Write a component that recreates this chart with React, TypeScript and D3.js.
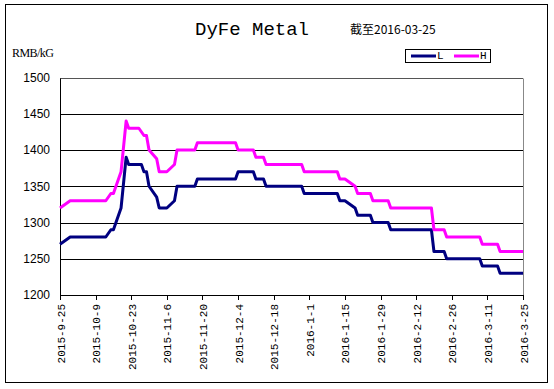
import { useEffect, useRef } from 'react';
import * as d3 from 'd3';

// L (low) price series: change points
const lDates = [
  '2015-09-25', '2015-09-29', '2015-10-13', '2015-10-15', '2015-10-16', '2015-10-19',
  '2015-10-21', '2015-10-22', '2015-10-27', '2015-10-28', '2015-10-29', '2015-10-30',
  '2015-11-02', '2015-11-03', '2015-11-06', '2015-11-09', '2015-11-10', '2015-11-17',
  '2015-11-18', '2015-12-03', '2015-12-04', '2015-12-10', '2015-12-11', '2015-12-14',
  '2015-12-15', '2015-12-29', '2015-12-30', '2016-01-12', '2016-01-13', '2016-01-15',
  '2016-01-19', '2016-01-20', '2016-01-25', '2016-01-26', '2016-02-01', '2016-02-02',
  '2016-02-18', '2016-02-19', '2016-02-23', '2016-02-24', '2016-03-08', '2016-03-09',
  '2016-03-15', '2016-03-16', '2016-03-25'
];
const lValues = [
  1270, 1280, 1280, 1290, 1290, 1320,
  1390, 1380, 1380, 1370, 1370, 1350,
  1335, 1320, 1320, 1330, 1350, 1350,
  1360, 1360, 1370, 1370, 1360, 1360,
  1350, 1350, 1340, 1340, 1330, 1330,
  1320, 1310, 1310, 1300, 1300, 1290,
  1290, 1260, 1260, 1250, 1250, 1240,
  1240, 1230, 1230
];

// H (high) price series: change points
const hDates = [
  '2015-09-25', '2015-09-29', '2015-10-13', '2015-10-15', '2015-10-16', '2015-10-19',
  '2015-10-21', '2015-10-22', '2015-10-26', '2015-10-28', '2015-10-29', '2015-10-30',
  '2015-11-02', '2015-11-03', '2015-11-06', '2015-11-09', '2015-11-10', '2015-11-17',
  '2015-11-18', '2015-12-03', '2015-12-04', '2015-12-10', '2015-12-11', '2015-12-14',
  '2015-12-15', '2015-12-29', '2015-12-30', '2016-01-12', '2016-01-13', '2016-01-15',
  '2016-01-19', '2016-01-20', '2016-01-25', '2016-01-26', '2016-02-01', '2016-02-02',
  '2016-02-18', '2016-02-19', '2016-02-23', '2016-02-24', '2016-03-08', '2016-03-09',
  '2016-03-15', '2016-03-16', '2016-03-25'
];
const hValues = [
  1320, 1330, 1330, 1340, 1340, 1370,
  1440, 1430, 1430, 1420, 1420, 1400,
  1388, 1370, 1370, 1380, 1400, 1400,
  1410, 1410, 1400, 1400, 1390, 1390,
  1380, 1380, 1370, 1370, 1360, 1360,
  1350, 1340, 1340, 1330, 1330, 1320,
  1320, 1290, 1290, 1280, 1280, 1270,
  1270, 1260, 1260
];

const xTickLabels = [
  '2015-9-25', '2015-10-9', '2015-10-23', '2015-11-6', '2015-11-20', '2015-12-4',
  '2015-12-18', '2016-1-1', '2016-1-15', '2016-1-29', '2016-2-12', '2016-2-26',
  '2016-3-11', '2016-3-25'
];
const yTicks = [1200, 1250, 1300, 1350, 1400, 1450, 1500];

const W = 554;
const H = 389;

export default function App() {
  const svgRef = useRef<SVGSVGElement>(null);

  useEffect(() => {
    const svg = d3.select(svgRef.current).html('');
    const parse = d3.timeParse('%Y-%m-%d');
    const parseTick = d3.timeParse('%Y-%m-%e');

    const left = 60, right = 523, top = 77.5, bottom = 295;

    const x = d3.scaleTime()
      .domain([parse('2015-09-25')!, parse('2016-03-25')!])
      .range([left, right]);
    const y = d3.scaleLinear().domain([1200, 1500]).range([bottom, top]);

    svg.append('rect').attr('width', W).attr('height', H).attr('fill', '#fff');
    // 外枠
    svg.append('rect')
      .attr('x', 5.5).attr('y', 4.5).attr('width', 542).attr('height', 378)
      .attr('fill', 'none').attr('stroke', '#000');

    // タイトル
    svg.append('text')
      .attr('x', 252).attr('y', 35)
      .attr('text-anchor', 'middle')
      .attr('font-family', 'Liberation Mono, DejaVu Sans Mono, monospace')
      .attr('font-size', 19)
      .text('DyFe Metal');
    svg.append('text')
      .attr('x', 350).attr('y', 34)
      .attr('font-family', 'Noto Sans CJK SC, sans-serif')
      .attr('font-size', 12)
      .text('截至2016-03-25');
    svg.append('text')
      .attr('x', 12).attr('y', 57)
      .attr('font-family', 'Liberation Serif, serif')
      .attr('font-size', 12)
      .attr('textLength', 42)
      .text('RMB/kG');

    // 罫線
    svg.append('g')
      .selectAll('line')
      .data(yTicks.filter(d => d > 1200))
      .enter()
      .append('line')
      .attr('x1', left).attr('x2', right)
      .attr('y1', d => Math.round(y(d)) + 0.5)
      .attr('y2', d => Math.round(y(d)) + 0.5)
      .attr('stroke', d => (d === 1500 ? '#555' : '#000'))
      .attr('stroke-width', 1);

    // 右枠（グレー）
    svg.append('line')
      .attr('x1', right + 0.5).attr('x2', right + 0.5)
      .attr('y1', Math.round(y(1500)) + 0.5).attr('y2', bottom)
      .attr('stroke', '#888');

    // Y軸
    svg.append('line')
      .attr('x1', left + 0.5).attr('x2', left + 0.5)
      .attr('y1', Math.round(y(1500)) + 0.5).attr('y2', bottom + 0.5)
      .attr('stroke', '#000');
    svg.append('g')
      .selectAll('text')
      .data(yTicks)
      .enter()
      .append('text')
      .attr('x', 50)
      .attr('y', d => y(d))
      .attr('dy', '0.36em')
      .attr('text-anchor', 'end')
      .attr('font-family', 'Liberation Sans, Arial, sans-serif')
      .attr('font-size', 12)
      .text(d => d);

    // X軸
    svg.append('line')
      .attr('x1', left).attr('x2', right + 1)
      .attr('y1', bottom + 0.5).attr('y2', bottom + 0.5)
      .attr('stroke', '#000');
    const tickDates = xTickLabels.map(s => parseTick(s)!);
    svg.append('g')
      .selectAll('line')
      .data(tickDates)
      .enter()
      .append('line')
      .attr('x1', d => Math.round(x(d)) + 0.5)
      .attr('x2', d => Math.round(x(d)) + 0.5)
      .attr('y1', bottom)
      .attr('y2', bottom + 5)
      .attr('stroke', '#000');
    svg.append('g')
      .selectAll('text')
      .data(xTickLabels)
      .enter()
      .append('text')
      .attr('transform', (d, i) => `translate(${x(tickDates[i]) + 1.5},304) rotate(-90)`)
      .attr('text-anchor', 'end')
      .attr('dominant-baseline', 'central')
      .attr('font-family', 'Liberation Mono, DejaVu Sans Mono, monospace')
      .attr('font-size', 11)
      .text(d => d);

    // 系列
    const line = d3.line<[Date, number]>()
      .x(d => x(d[0]))
      .y(d => y(d[1]));
    const lData: [Date, number][] = lDates.map((d, i) => [parse(d)!, lValues[i]]);
    const hData: [Date, number][] = hDates.map((d, i) => [parse(d)!, hValues[i]]);

    svg.append('path')
      .datum(lData)
      .attr('d', line)
      .attr('fill', 'none')
      .attr('stroke', '#000080')
      .attr('stroke-width', 3)
      .attr('stroke-linejoin', 'round');
    svg.append('path')
      .datum(hData)
      .attr('d', line)
      .attr('fill', 'none')
      .attr('stroke', '#ff00ff')
      .attr('stroke-width', 3)
      .attr('stroke-linejoin', 'round');

    // 凡例
    const lg = svg.append('g');
    lg.append('rect')
      .attr('x', 405.5).attr('y', 49.5).attr('width', 85).attr('height', 13)
      .attr('fill', '#fff').attr('stroke', '#000');
    const items = [
      { name: 'L', color: '#000080', x0: 411 },
      { name: 'H', color: '#ff00ff', x0: 454 }
    ];
    items.forEach(it => {
      lg.append('line')
        .attr('x1', it.x0).attr('x2', it.x0 + 25)
        .attr('y1', 56).attr('y2', 56)
        .attr('stroke', it.color).attr('stroke-width', 3);
      lg.append('text')
        .attr('x', it.x0 + 26).attr('y', 56)
        .attr('dominant-baseline', 'central')
        .attr('font-family', 'Liberation Mono, DejaVu Sans Mono, monospace')
        .attr('font-size', 11)
        .text(it.name);
    });
  }, []);

  return (
    <div style={{ position: 'absolute', left: 0, top: 0 }}>
      <svg ref={svgRef} width={W} height={H}></svg>
    </div>
  );
}
